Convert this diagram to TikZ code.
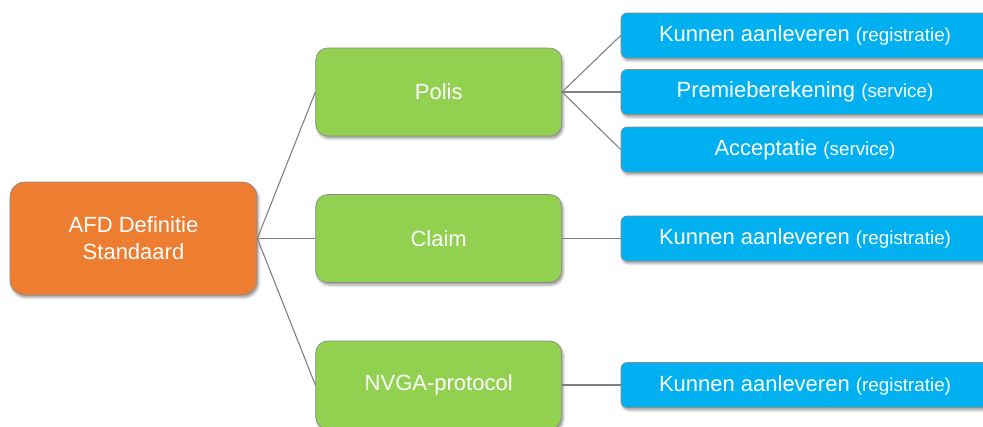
\documentclass[tikz,border=0pt]{standalone}
\usepackage{fontspec}
\setmainfont{Liberation Sans}
\usetikzlibrary{shadows.blur}
\definecolor{rootc}{HTML}{ED7D31}
\definecolor{greenc}{HTML}{92D050}
\definecolor{bluec}{HTML}{00B0F0}
\definecolor{edgec}{HTML}{8C8C8C}
\definecolor{linec}{HTML}{808080}
\tikzset{
  box/.style={rectangle, draw=edgec, line width=0.7pt, text=white, inner sep=0pt,
    align=center, font=\fontsize{22}{27}\selectfont,
    blur shadow={shadow xshift=1.5pt, shadow yshift=-2.5pt, shadow blur radius=2.5pt, shadow opacity=40}},
  rootbox/.style={box, fill=rootc, rounded corners=15pt, minimum width=247pt, minimum height=113pt},
  greenbox/.style={box, fill=greenc, rounded corners=12pt, minimum width=246pt, minimum height=88pt},
  bluebox/.style={box, fill=bluec, rounded corners=6pt, minimum width=368pt, minimum height=45pt},
  conn/.style={draw=linec, line width=1.1pt}
}
\newcommand{\sm}[1]{{\fontsize{18.8}{22}\selectfont #1}}
\begin{document}
\begin{tikzpicture}[x=1pt,y=-1pt]
\useasboundingbox (0,0) rectangle (983,426);
\clip (0,0) rectangle (983,426);
\node[rootbox] (root) at (133.5,238.5) {AFD Definitie\\Standaard};
\node[greenbox] (polis) at (438.7,92) {Polis};
\node[greenbox] (claim) at (438.7,238.5) {Claim};
\node[greenbox] (nvga) at (438.7,385) {NVGA-protocol};
\node[bluebox] (b1) at (805,35.5) {Kunnen aanleveren \sm{(registratie)}};
\node[bluebox] (b2) at (805,92) {Premieberekening \sm{(service)}};
\node[bluebox] (b3) at (805,149.5) {Acceptatie \sm{(service)}};
\node[bluebox] (b4) at (805,238.5) {Kunnen aanleveren \sm{(registratie)}};
\node[bluebox] (b5) at (805,385) {Kunnen aanleveren \sm{(registratie)}};
\draw[conn] (root.east) -- (polis.west);
\draw[conn] (root.east) -- (claim.west);
\draw[conn] (root.east) -- (nvga.west);
\draw[conn] (polis.east) -- (b1.west);
\draw[conn] (polis.east) -- (b2.west);
\draw[conn] (polis.east) -- (b3.west);
\draw[conn] (claim.east) -- (b4.west);
\draw[conn] (nvga.east) -- (b5.west);
\end{tikzpicture}
\end{document}
